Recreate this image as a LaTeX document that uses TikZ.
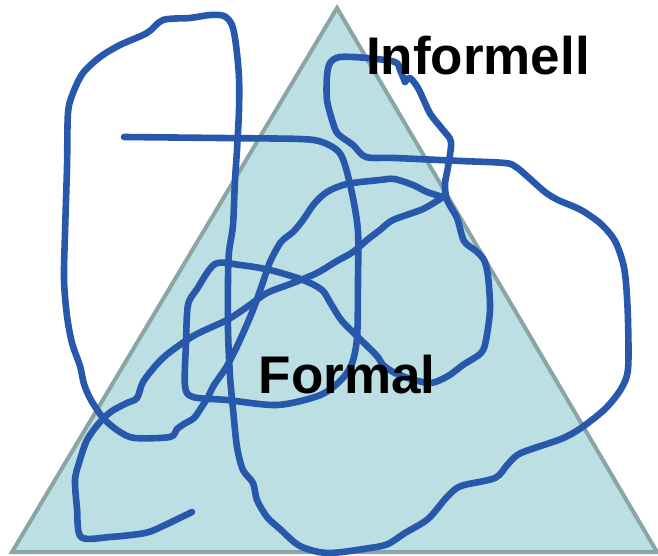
\documentclass[tikz,border=0pt]{standalone}
\usepackage{fontspec}
\setmainfont{Liberation Sans}
\definecolor{scribble}{RGB}{40,88,172}
\definecolor{trifill}{RGB}{187,223,226}
\definecolor{triedge}{RGB}{138,165,165}
\begin{document}
\begin{tikzpicture}[x=1pt,y=-1pt,
  scribbleline/.style={draw=scribble,line width=6.6pt,line cap=round,line join=round},
  labeltext/.style={font=\fontsize{53}{60}\selectfont\bfseries,text=black,anchor=base,inner sep=0pt}]
\useasboundingbox (0,0) rectangle (658,556);
% the triangle
\filldraw[fill=trifill,draw=triedge,line width=4pt,line join=miter]
  (337,8) -- (657,552) -- (12,552) -- cycle;
% the scribble, in three strokes
\draw[scribbleline] plot[smooth,tension=0.5] coordinates {
  (124,137) (220,138) (300,139) (322,142) (338,151) (345,165) (353,198)
  (358,232) (358,280) (357,338) (351,366) (338,383) (318,396) (277,405)
  (227,400) (193,397) (185,386) (186,343) (188,305) (197,289) (215,264)
  (240,265) (270,270) (303,280) (322,290) (331,304) (342,321) (360,339)
  (377,356) (383,365) (395,373) (411,379) (431,383) (448,376) (463,365)
  (481,353) (486,340) (490,309) (488,276) (484,260) (476,251) (464,241)
  (457,218) (447,200) (445,184) (448,167) (451,142) (443,130) (431,115)
  (425,103) (418,88) (410,78) (405,82)};
\draw[scribbleline] plot[smooth,tension=0.5] coordinates {
  (405,82) (400,70) (395,62) (367,58) (340,57) (330,63) (327,76) (327,100)
  (333,123) (338,134) (353,145) (366,157) (395,158) (461,161) (505,163)
  (516,167) (528,177) (545,192) (558,200) (581,210) (601,224) (615,241)
  (623,263) (626,283) (628,320) (628,369) (621,389) (605,409) (581,428)
  (561,439) (521,453) (508,464) (495,478) (461,486) (447,497) (428,519)
  (405,533) (388,544) (370,548) (328,553) (300,546) (280,529) (267,517)
  (257,500) (253,483) (243,470) (237,447) (233,409) (230,376) (228,330)
  (228,280) (229,252) (233,225) (235,180) (237,150) (239,110) (239,77)
  (236,45) (232,25) (224,16) (210,15) (190,18) (163,20) (147,33) (120,45)
  (100,57) (83,73) (73,93) (68,113) (67,167) (65,233) (64,280) (67,316)
  (72,343) (80,366) (84,384) (91,400) (104,419) (120,432) (135,438)
  (170,437) (177,429) (184,424) (194,418) (201,408) (208,397) (214,385)
  (227,366) (240,340) (253,310) (262,285) (270,262) (281,242) (293,232)
  (303,220) (314,204) (327,192) (347,184) (380,180) (394,179) (413,185)
  (427,192) (443,197)};
\draw[scribbleline] plot[smooth,tension=0.5] coordinates {
  (443,197) (423,209) (393,220) (380,230) (367,240) (353,252) (337,261)
  (317,273) (293,283) (267,293) (247,307) (227,320) (195,335) (170,352)
  (157,364) (143,382) (137,398) (127,403) (112,411) (100,422) (87,440)
  (79,463) (75,480) (77,508) (81,537) (110,537) (145,533) (163,526)
  (192,512)};
% labels
\node[labeltext] (informell) at (478,75) {Informell};
\node[labeltext] (formal) at (347,393) {Formal};
\end{tikzpicture}
\end{document}
